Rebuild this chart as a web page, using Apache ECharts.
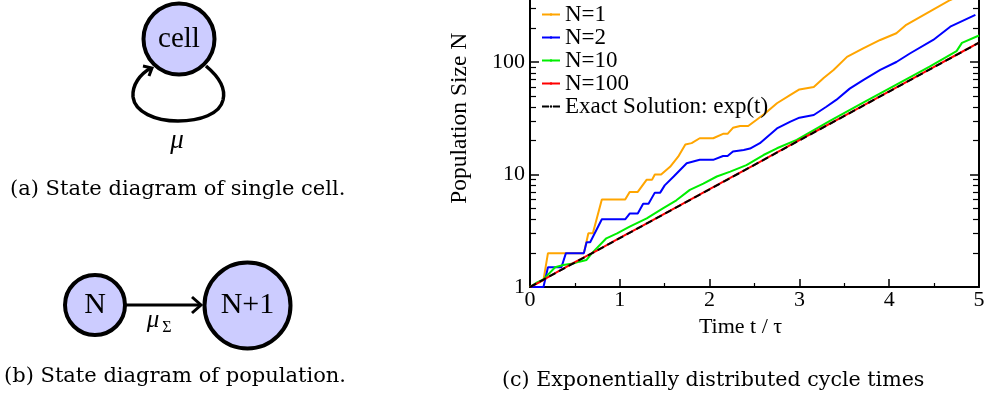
<!DOCTYPE html>
<html><head><meta charset="utf-8">
<script src="https://cdn.jsdelivr.net/npm/echarts@6/dist/echarts.min.js"></script>
<style>html,body{margin:0;padding:0;background:#fff;}#c{width:989px;height:398px;}</style>
</head><body><div id="c"></div>
<script>
// ---------- data ----------
const xTickValues = [0, 1, 2, 3, 4, 5];
const yMinorTickValues = [2,3,4,5,6,7,8,9,20,30,40,50,60,70,80,90,200,300,400,500,600,700,800,900];
const seriesNames = ['N=1', 'N=2', 'N=10', 'N=100', 'Exact Solution: exp(t)'];

const n1T = [0,0.15,0.2,0.6,0.65,0.7,0.8,1.06,1.11,1.2,1.3,1.36,1.39,1.46,1.56,1.65,1.73,1.8,1.89,2.04,2.15,2.2,2.26,2.34,2.43,2.52,2.62,2.75,2.9,3.0,3.16,3.27,3.38,3.53,3.71,3.9,4.08,4.19,4.45,4.68,5.0];
const n1V = [1,1.15,2,2,3,3,6,6,7,7,9,9,10,10,11.7,14.4,18.5,19,21,21,23,23,26,27,27,30.5,35,43,51,57,60,72,85,111,132,157,180,214,280,356,460];

const n2T = [0,0.15,0.2,0.35,0.4,0.6,0.63,0.67,0.8,1.06,1.11,1.2,1.26,1.32,1.39,1.45,1.5,1.6,1.745,1.89,2.04,2.15,2.2,2.26,2.38,2.45,2.56,2.75,2.9,3.0,3.16,3.3,3.41,3.56,3.71,3.9,4.08,4.23,4.49,4.68,4.96];
const n2V = [1,1,1.5,1.5,2,2,2.5,2.5,4,4,4.5,4.5,5.5,5.5,6.9,6.9,8,9.6,12.6,13.5,13.5,14.6,14.6,16,16.5,17,19,25.7,29.5,32,33.8,40,46,58,69,85,100,119,157,206,262];

const n10T = [0,0.08,0.15,0.28,0.37,0.48,0.55,0.63,0.69,0.85,0.97,1.11,1.3,1.48,1.63,1.78,1.93,2.08,2.23,2.41,2.6,2.75,2.97,3.34,3.71,4.08,4.45,4.75,4.81,5.0];
const n10V = [1,1.1,1.17,1.5,1.57,1.62,1.68,1.74,2.0,2.71,3.0,3.44,4.08,5.0,5.9,7.3,8.3,9.6,10.6,12.1,14.9,17.1,20.3,30,43.5,63,91,125,148,172];

const n100T = [0,0.1,0.25,0.5,0.75,1,1.25,1.5,1.75,2,2.25,2.5,2.75,3,3.25,3.5,3.75,4,4.25,4.5,4.75,5];
const n100V = [1,1.1,1.29,1.66,2.12,2.73,3.5,4.5,5.78,7.42,9.52,12.2,15.7,20.2,25.9,33.2,42.6,54.8,70.3,90.3,116,149];

const exactT = [0,1,2,3,4,5];
const exactV = [1,2.718,7.389,20.09,54.6,148.4];

const seriesColors = ['#ffa500', '#0000ff', '#00ee00', '#ff0000', '#000000'];

// ---------- chart ----------
const zip = (t, v) => t.map((x, i) => [x, v[i]]);
const serif = "'Liberation Serif', 'Times New Roman', serif";
const capFont = "'DejaVu Serif', serif";
const lav = '#ccccff';

const chart = echarts.init(document.getElementById('c'), null, {renderer: 'canvas'});

const yBase = {
  type: 'log', logBase: 10, min: 1, max: 1000,
  axisLine: {show: true, lineStyle: {color: '#000', width: 2}},
  axisTick: {show: true, inside: true, length: 9, lineStyle: {color: '#000', width: 1.5}},
  splitLine: {show: false}
};
const yMinorBase = {
  type: 'value', min: 0, max: 3,
  axisLine: {show: false},
  axisLabel: {show: false},
  splitLine: {show: false},
  axisTick: {show: true, inside: true, length: 6, lineStyle: {color: '#000', width: 1.2},
    customValues: yMinorTickValues.map(v => Math.log10(v))}
};

const data = [zip(n1T, n1V), zip(n2T, n2V), zip(n10T, n10V), zip(n100T, n100V), zip(exactT, exactV)];

const blk = {stroke: '#000', lineWidth: 3.5, fill: null};
const option = {
  animation: false,
  backgroundColor: '#fff',
  textStyle: {fontFamily: serif, color: '#000'},
  grid: {left: 530, right: 10, top: -50.5, bottom: 111, containLabel: false, outerBoundsMode: 'none'},
  legend: {
    orient: 'vertical', left: 536, top: -2,
    itemWidth: 18, itemHeight: 3, itemGap: 0,
    textStyle: {fontFamily: serif, fontSize: 23, color: '#000', lineHeight: 21},
    data: seriesNames
  },
  xAxis: {
    type: 'value', min: 0, max: 5, interval: 1,
    name: 'Time t / \u03c4', nameLocation: 'middle', nameGap: 17,
    nameTextStyle: {fontFamily: serif, fontSize: 22, color: '#000', padding: [0, 28, 0, 0]},
    axisLine: {show: true, lineStyle: {color: '#000', width: 2}},
    axisTick: {show: true, inside: true, length: 8, lineStyle: {color: '#000', width: 1.5}},
    minorTick: {show: true, splitNumber: 2, length: 4, lineStyle: {color: '#000', width: 1.2}},
    axisLabel: {fontFamily: serif, fontSize: 22, color: '#000', margin: 2},
    splitLine: {show: false}
  },
  yAxis: [
    Object.assign({}, yBase, {
      position: 'left',
      name: 'Population Size N', nameLocation: 'middle', nameGap: 51,
      nameTextStyle: {fontFamily: serif, fontSize: 23.5, color: '#000'},
      axisLabel: {fontFamily: serif, fontSize: 22, color: '#000', margin: 5}
    }),
    Object.assign({}, yBase, {position: 'right', axisLabel: {show: false}}),
    Object.assign({}, yMinorBase, {position: 'left'}),
    Object.assign({}, yMinorBase, {position: 'right'})
  ],
  series: seriesNames.map((name, i) => ({
    name: name, type: 'line', data: data[i], yAxisIndex: 0,
    showSymbol: false, symbol: 'none', smooth: false,
    color: seriesColors[i],
    lineStyle: {color: seriesColors[i], width: 2, type: i === 4 ? [7, 4] : 'solid'},
    z: 2 + i
  })),
  graphic: [
    // (a) single cell
    {type: 'bezierCurve', shape: {x1: 206, y1: 66, cpx1: 218, cpy1: 76, cpx2: 226, cpy2: 88, x2: 223, y2: 100}, style: blk},
    {type: 'bezierCurve', shape: {x1: 223, y1: 100, cpx1: 220, cpy1: 114, cpx2: 200, cpy2: 121, x2: 178, y2: 121}, style: blk},
    {type: 'bezierCurve', shape: {x1: 178, y1: 121, cpx1: 155, cpy1: 121, cpx2: 135, cpy2: 112, x2: 133, y2: 97}, style: blk},
    {type: 'bezierCurve', shape: {x1: 133, y1: 97, cpx1: 132, cpy1: 85, cpx2: 140, cpy2: 74, x2: 151, y2: 68}, style: blk},
    {type: 'polyline', shape: {points: [[143,66], [152,68], [149,76]]},
      style: {stroke: '#000', lineWidth: 3, fill: null}},
    {type: 'circle', shape: {cx: 179, cy: 39, r: 35.5}, style: {fill: lav, stroke: '#000', lineWidth: 4}},
    {type: 'text', x: 179, y: 39, style: {text: 'cell', fontFamily: serif, fontSize: 29, fill: '#000', align: 'center', verticalAlign: 'middle'}},
    {type: 'text', x: 177, y: 141, style: {text: '\u03bc', fontFamily: serif, fontStyle: 'italic', fontSize: 27, fill: '#000', align: 'center', verticalAlign: 'middle'}},
    {type: 'text', x: 10, y: 190, style: {text: '(a) State diagram of single cell.', fontFamily: capFont, fontSize: 21, fill: '#000', align: 'left', verticalAlign: 'middle'}},
    // (b) population
    {type: 'line', shape: {x1: 126, y1: 305, x2: 200, y2: 305}, style: {stroke: '#000', lineWidth: 3}},
    {type: 'polyline', shape: {points: [[192,297], [201,305], [192,313]]},
      style: {stroke: '#000', lineWidth: 3, fill: null}},
    {type: 'circle', shape: {cx: 95, cy: 305, r: 30}, style: {fill: lav, stroke: '#000', lineWidth: 4}},
    {type: 'circle', shape: {cx: 247.5, cy: 305.5, r: 43}, style: {fill: lav, stroke: '#000', lineWidth: 4}},
    {type: 'text', x: 95, y: 305, style: {text: 'N', fontFamily: serif, fontSize: 30, fill: '#000', align: 'center', verticalAlign: 'middle'}},
    {type: 'text', x: 247.5, y: 305, style: {text: 'N+1', fontFamily: serif, fontSize: 30, fill: '#000', align: 'center', verticalAlign: 'middle'}},
    {type: 'text', x: 153, y: 320, style: {text: '\u03bc', fontFamily: serif, fontStyle: 'italic', fontSize: 25, fill: '#000', align: 'center', verticalAlign: 'middle'}},
    {type: 'text', x: 167, y: 328, style: {text: '\u03a3', fontFamily: serif, fontSize: 16, fill: '#000', align: 'center', verticalAlign: 'middle'}},
    {type: 'text', x: 4, y: 377, style: {text: '(b) State diagram of population.', fontFamily: capFont, fontSize: 21, fill: '#000', align: 'left', verticalAlign: 'middle'}},
    // (c) caption
    {type: 'text', x: 502, y: 381, style: {text: '(c) Exponentially distributed cycle times', fontFamily: capFont, fontSize: 20.6, fill: '#000', align: 'left', verticalAlign: 'middle'}}
  ]
};
chart.setOption(option);
</script>
</body></html>
